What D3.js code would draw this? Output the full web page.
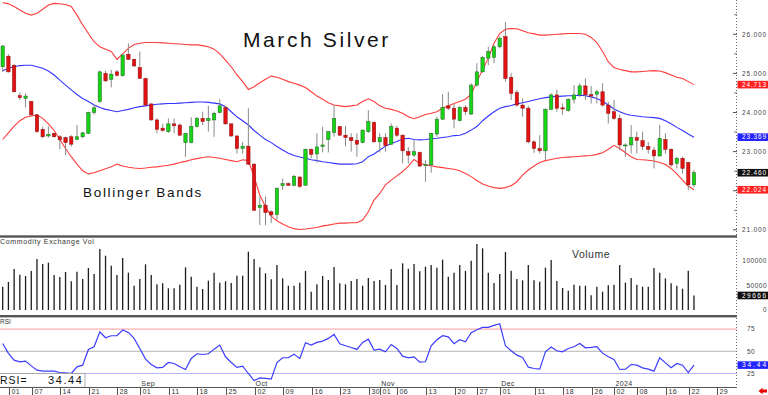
<!DOCTYPE html>
<html><head><meta charset="utf-8">
<script src="https://cdn.jsdelivr.net/npm/d3@7"></script>
<style>html,body{margin:0;padding:0;background:#fff;overflow:hidden}text{font-family:"Liberation Sans",Arial,sans-serif}</style>
</head><body>
<svg id="c" width="768" height="395"></svg>
<script>
// ---- trading days (Jul 31 2023 .. Jan 23 2024) ----
const daysJul = [31];
const daysAug = [1,2,3,4,7,8,9,10,11,14,15,16,17,18,21,22,23,24,25,28,29,30,31];
const daysSep = [1,5,6,7,8,11,12,13,14,15,18,19,20,21,22,25,26,27,28,29];
const daysOct = [2,3,4,5,6,9,10,11,12,13,16,17,18,19,20,23,24,25,26,27,30,31];
const daysNov = [1,2,3,6,7,8,9,10,13,14,15,16,17,20,21,22,24,27,28,29,30];
const daysDec = [1,4,5,6,7,8,11,12,13,14,15,18,19,20,21,22,26,27,28,29];
const daysJan = [2,3,4,5,8,9,10,11,12,16,17,18,19,22,23];

const open = [25.17,25.44,25.21,24.43,24.36,24.28,23.94,23.57,23.40,23.47,23.38,23.36,23.38,23.31,23.38,23.47,24.00,24.28,25.00,24.85,25.04,24.94,25.49,25.36,25.15,24.87,24.22,23.81,23.60,23.51,23.71,23.68,23.23,23.23,23.64,23.85,23.79,23.81,24.00,24.13,23.71,23.40,23.08,23.14,22.68,21.57,21.63,21.46,21.39,22.13,22.18,22.14,22.35,22.14,23.06,22.94,23.13,23.31,23.49,23.64,23.42,23.36,23.29,23.23,23.51,23.75,23.25,23.36,23.19,23.60,23.42,23.00,22.91,22.98,22.64,22.66,23.45,23.83,24.17,24.11,23.79,24.13,23.96,24.70,25.04,25.39,25.41,25.68,25.94,24.90,24.51,24.19,24.11,23.25,23.08,23.02,24.08,24.45,24.12,24.05,24.34,24.45,24.68,24.46,24.47,24.53,24.19,24.02,23.85,23.16,23.17,23.36,23.28,23.13,23.04,22.89,23.31,23.06,22.70,22.83,22.72,22.15];
const high = [25.73,25.49,25.23,24.51,24.49,24.30,23.96,23.64,23.64,23.48,23.42,23.38,23.42,23.68,23.51,24.02,24.19,25.07,25.07,25.09,25.09,25.51,25.77,25.38,25.56,24.89,24.23,23.85,23.71,23.85,23.85,23.72,23.48,23.88,23.89,24.02,24.17,24.02,24.34,24.17,23.72,23.42,23.25,24.11,22.70,21.85,21.85,21.50,22.09,22.31,22.21,22.41,22.37,23.08,23.08,23.47,23.64,23.53,24.19,23.66,23.66,23.47,23.47,23.57,24.06,23.77,23.47,23.47,23.72,23.66,23.44,23.12,23.29,23.00,22.78,23.48,23.89,24.47,24.53,24.23,24.17,24.19,24.75,25.26,25.44,25.68,25.73,25.94,26.32,25.00,24.58,24.36,24.17,23.29,23.42,24.11,24.49,24.58,24.23,24.36,24.70,24.75,24.87,24.68,24.58,24.75,24.28,24.32,23.94,23.21,23.68,23.51,23.51,23.25,23.12,23.68,23.47,23.08,22.87,22.87,22.74,22.53];
const low = [25.04,25.02,24.51,24.32,24.13,23.91,23.48,23.34,23.36,23.36,23.06,22.91,23.13,23.30,23.34,23.45,23.94,24.25,24.78,24.64,24.92,24.92,25.34,25.17,24.87,24.17,23.79,23.47,23.51,23.48,23.47,23.40,22.87,23.21,23.62,23.68,23.51,23.38,23.98,23.68,23.38,22.95,22.95,22.66,21.49,21.12,21.12,21.17,21.25,22.02,22.13,22.11,22.08,22.13,22.83,22.72,22.98,22.98,23.38,23.40,23.13,23.00,22.87,23.21,23.48,23.23,22.98,23.00,23.17,23.38,22.70,22.70,22.87,22.61,22.23,22.46,23.38,23.81,24.06,23.60,23.77,23.94,23.94,24.66,25.02,25.21,25.26,25.64,24.79,24.32,24.15,23.89,23.21,22.97,22.95,22.79,24.06,24.02,23.94,24.02,24.23,24.40,24.32,24.23,24.23,24.15,23.72,23.81,23.04,22.87,22.95,22.95,23.04,22.95,22.57,22.87,22.95,22.61,22.57,22.44,22.02,22.10];
const close = [25.70,25.04,24.53,24.38,24.42,23.94,23.51,23.38,23.44,23.38,23.30,23.23,23.19,23.38,23.48,24.00,24.12,25.04,24.81,24.98,24.95,25.47,25.36,25.19,24.87,24.19,23.81,23.57,23.54,23.71,23.66,23.42,23.47,23.64,23.85,23.77,23.85,23.98,24.17,23.71,23.40,23.08,23.14,22.68,21.50,21.63,21.44,21.38,22.06,22.18,22.14,22.37,22.11,23.06,22.93,23.12,23.17,23.51,23.85,23.42,23.36,23.28,23.19,23.55,23.77,23.25,23.36,23.15,23.64,23.42,23.02,22.91,23.00,22.63,22.67,23.47,23.83,24.13,24.11,23.83,24.13,24.02,24.70,25.04,25.41,25.56,25.68,25.90,24.87,24.49,24.19,24.11,23.25,23.08,23.02,24.08,24.45,24.11,24.09,24.34,24.45,24.68,24.45,24.42,24.53,24.19,23.98,23.85,23.17,23.17,23.36,23.29,23.13,23.06,22.89,23.34,23.06,22.66,22.83,22.57,22.15,22.46];

const upperBand = [26.81,26.78,26.71,26.62,26.54,26.49,26.54,26.64,26.75,26.79,26.78,26.76,26.71,26.49,26.24,26.02,25.81,25.68,25.62,25.56,25.36,25.50,25.64,25.74,25.77,25.79,25.79,25.79,25.78,25.77,25.76,25.75,25.74,25.73,25.73,25.71,25.68,25.62,25.50,25.34,25.17,24.96,24.79,24.59,24.66,24.76,24.85,24.93,24.90,24.85,24.79,24.75,24.70,24.64,24.53,24.42,24.34,24.25,24.19,24.17,24.15,24.17,24.19,24.28,24.35,24.28,24.17,24.11,24.08,24.04,23.98,23.89,23.84,23.89,23.95,23.98,24.02,24.11,24.17,24.23,24.28,24.34,24.47,24.79,25.09,25.39,25.77,26.02,26.13,26.15,26.14,26.09,26.04,26.01,25.98,25.98,25.99,26.00,26.01,26.02,26.02,26.02,26.00,25.92,25.79,25.56,25.30,25.15,25.10,25.07,25.04,25.04,25.05,25.06,25.07,25.06,25.02,24.96,24.90,24.87,24.79,24.713];
const middleBand = [25.07,25.13,25.17,25.20,25.21,25.21,25.17,25.13,25.06,24.96,24.83,24.70,24.58,24.46,24.36,24.28,24.19,24.13,24.08,24.05,24.02,24.05,24.08,24.12,24.15,24.17,24.19,24.21,24.22,24.23,24.23,24.24,24.25,24.26,24.27,24.27,24.26,24.24,24.22,24.15,24.02,23.89,23.79,23.68,23.54,23.42,23.31,23.23,23.13,23.04,22.96,22.90,22.86,22.83,22.79,22.77,22.74,22.72,22.70,22.68,22.68,22.68,22.69,22.74,22.87,22.94,23.04,23.14,23.21,23.26,23.32,23.34,23.31,23.30,23.31,23.33,23.34,23.36,23.38,23.41,23.42,23.47,23.55,23.64,23.79,23.91,24.02,24.11,24.15,24.18,24.22,24.25,24.28,24.32,24.35,24.38,24.40,24.41,24.42,24.43,24.43,24.44,24.43,24.40,24.36,24.29,24.19,24.09,24.02,23.96,23.93,23.91,23.89,23.88,23.87,23.85,23.79,23.71,23.62,23.54,23.45,23.369];
const lowerBand = [23.31,23.48,23.65,23.79,23.88,23.91,23.94,23.85,23.71,23.54,23.31,23.08,22.87,22.68,22.51,22.43,22.46,22.51,22.56,22.61,22.68,22.63,22.60,22.58,22.57,22.58,22.60,22.61,22.63,22.65,22.68,22.72,22.75,22.79,22.82,22.85,22.87,22.85,22.83,22.80,22.77,22.74,22.79,22.77,22.36,21.89,21.59,21.35,21.23,21.15,21.08,21.03,21.01,21.02,21.04,21.06,21.10,21.12,21.15,21.17,21.17,21.18,21.18,21.25,21.46,21.76,21.93,22.15,22.27,22.38,22.49,22.63,22.80,22.70,22.66,22.64,22.61,22.59,22.57,22.55,22.51,22.44,22.36,22.26,22.17,22.12,22.08,22.06,22.08,22.13,22.23,22.40,22.53,22.63,22.72,22.77,22.80,22.83,22.85,22.86,22.87,22.88,22.89,22.90,22.93,22.97,23.06,23.16,23.08,22.97,22.87,22.80,22.79,22.78,22.76,22.72,22.67,22.57,22.43,22.27,22.12,22.024];

const volume = [47600,57100,83600,72100,69400,79600,104000,93800,96600,71400,67300,77500,58500,78200,63200,85700,73400,124400,110800,90400,71400,106100,76200,49600,63200,93200,71400,52400,54400,44200,44200,51700,87000,68000,47600,42800,59800,76200,55800,58500,55100,70000,70000,119000,104000,87000,74800,62600,91800,64600,49600,49600,55800,79600,37400,52400,69400,61200,87700,54400,52400,59200,63200,49600,65300,59200,61200,51000,83600,51000,95200,84300,93800,78900,88400,91800,86400,102700,68000,76200,91800,79600,100600,134600,125800,76200,55100,73400,118300,80200,63200,60500,91800,60500,57800,86400,102000,59200,44900,39400,51700,49600,49600,29900,47600,37400,50300,51700,91800,55800,65300,51700,47600,47600,85700,76200,64600,54400,49600,43500,80200,29666];

const rsi = [58.8,47.6,40.0,38.2,38.9,33.6,28.8,27.6,27.6,27.6,26.1,25.8,25.0,32.5,34.4,52.1,55.1,72.0,65.2,67.5,67.5,73.9,71.2,64.5,53.2,41.2,35.1,31.4,31.8,37.4,36.3,32.5,29.5,41.9,47.2,46.4,47.2,52.4,57.0,43.8,37.4,31.8,33.3,25.0,17.1,20.1,19.4,18.6,37.4,42.7,42.7,46.8,41.9,59.6,57.0,60.0,61.5,64.5,69.0,58.5,56.2,54.3,52.1,60.0,63.7,51.3,52.4,49.4,57.7,53.2,44.5,42.7,43.8,37.8,38.2,56.2,63.0,67.5,66.3,58.5,63.0,60.7,70.9,74.2,76.9,76.9,79.1,81.0,56.2,50.6,45.7,43.0,32.1,30.6,29.9,49.4,54.7,50.6,49.4,53.2,55.1,58.8,53.9,54.3,55.1,47.9,43.8,40.8,29.5,29.9,35.1,34.4,31.4,29.9,27.6,42.7,37.0,31.4,36.3,34.4,26.1,34.44];

// axis labels (tick positions are trading-day slots)
const tickSlots  = [1,5,10,15,20,24,29,34,39,44,49,54,59,64,66,69,74,79,83,87,93,98,103,107,111,116,120,125];
const tickLabels = ["01","07","14","21","28","01","11","18","25","02","09","16","23","30","01","06","13","20","27","01","11","18","26","02","08","16","22","29"];
const monthSlots  = [24,44,66,87,107];
const monthLabels = ["Sep","Oct","Nov","Dec","2024"];
const priceTicks = [21,22,23,24,25,26];
const priceMinorTicks = [21.5,22.5,23.5,24.5,25.5,26.5];
const volTicks = [0,50000,100000];
const rsiTicks = [25,50,75];

// ---------------------------------------------------
const dates = [].concat(
  daysJul.map(d=>"2023-07-"+d), daysAug.map(d=>"2023-08-"+d), daysSep.map(d=>"2023-09-"+d),
  daysOct.map(d=>"2023-10-"+d), daysNov.map(d=>"2023-11-"+d), daysDec.map(d=>"2023-12-"+d),
  daysJan.map(d=>"2024-01-"+d));
const idx = d3.range(close.length);
const svg = d3.select("#c");
const PR = 737;
const x = d3.scaleLinear().domain([-0.4726, 128.53]).range([0, PR]);
const yP = d3.scaleLinear().domain([20.842, 26.877]).range([236, 0]);
const yV = d3.scaleLinear().domain([0, 148980]).range([310, 237]);
const yR = d3.scaleLinear().domain([9.46, 88.6]).range([387.3, 317]);

svg.append("rect").attr("width",768).attr("height",395).attr("fill","#fff");

svg.append("clipPath").attr("id","cm").append("rect").attr("x",0).attr("y",0).attr("width",PR).attr("height",235);

// titles
svg.append("text").attr("x",243).attr("y",46.5).attr("font-size",21).attr("letter-spacing",2.6).attr("fill","#111").text("March Silver");
svg.append("text").attr("x",83).attr("y",197).attr("font-size",13.5).attr("letter-spacing",1.7).attr("fill","#111").text("Bollinger Bands");

const main = svg.append("g").attr("clip-path","url(#cm)");
const line = arr => d3.line().x((d,i)=>x(i)).y(d=>yP(d))(arr);
main.append("path").attr("d",line(upperBand)).attr("fill","none").attr("stroke","#ff3c3c").attr("stroke-width",1.1);
main.append("path").attr("d",line(lowerBand)).attr("fill","none").attr("stroke","#ff3c3c").attr("stroke-width",1.1);
main.append("path").attr("d",line(middleBand)).attr("fill","none").attr("stroke","#3434ff").attr("stroke-width",1.1);

// candles
main.selectAll("line.wick").data(idx).join("line").attr("class","wick")
  .attr("x1",i=>x(i)).attr("x2",i=>x(i)).attr("y1",i=>yP(high[i])).attr("y2",i=>yP(low[i]))
  .attr("stroke","#8a8a8a").attr("stroke-width",1);
main.selectAll("rect.body").data(idx).join("rect").attr("class","body")
  .attr("x",i=>x(i)-1.7).attr("width",3.4)
  .attr("y",i=>yP(Math.max(open[i],close[i])))
  .attr("height",i=>Math.max(1,yP(Math.min(open[i],close[i]))-yP(Math.max(open[i],close[i]))))
  .attr("fill",i=>close[i]>=open[i]?"#14d414":"#e01212")
  .attr("stroke",i=>close[i]>=open[i]?"#2d5f2d":"#8c1111").attr("stroke-width",0.5);

// separators
svg.append("rect").attr("x",0).attr("y",235.3).attr("width",PR).attr("height",2.4).attr("fill","#555");
svg.append("rect").attr("x",0).attr("y",315).attr("width",PR).attr("height",2.4).attr("fill","#555");

// volume
svg.append("text").attr("x",0).attr("y",243.5).attr("font-size",7).attr("letter-spacing",0.65).attr("fill","#333").text("Commodity Exchange Vol");
svg.append("text").attr("x",572).attr("y",257.5).attr("font-size",10.5).attr("letter-spacing",0.5).attr("fill","#333").text("Volume");
svg.selectAll("line.vol").data(idx).join("line").attr("class","vol")
  .attr("x1",i=>x(i)).attr("x2",i=>x(i)).attr("y1",yV(0)).attr("y2",i=>yV(volume[i]))
  .attr("stroke","#1c1c1c").attr("stroke-width",1.3);

// RSI
svg.append("text").attr("x",0).attr("y",324).attr("font-size",6.5).attr("fill","#333").text("RSI");
const rsiLineCol = {75:"#ff9c9c",50:"#b4b4b4",25:"#b4b4ff"};
rsiTicks.forEach(t=>{
  svg.append("line").attr("x1",0).attr("x2",PR).attr("y1",yR(t)).attr("y2",yR(t)).attr("stroke",rsiLineCol[t]).attr("stroke-width",1);
});
svg.append("path").attr("d",d3.line().x((d,i)=>x(i)).y(d=>yR(d))(rsi)).attr("fill","none").attr("stroke","#3c3cff").attr("stroke-width",1.2);

// RSI value box
svg.append("rect").attr("x",-1).attr("y",373.5).attr("width",86).attr("height",13.8).attr("fill","#fff").attr("stroke","#9a9a9a").attr("stroke-width",0.8);
svg.append("text").attr("x",0).attr("y",384).attr("font-size",10.5).attr("letter-spacing",1).attr("fill","#111").text("RSI=");
svg.append("text").attr("x",48).attr("y",384).attr("font-size",11).attr("letter-spacing",1.6).attr("fill","#111").text(d3.format(".2f")(rsi[rsi.length-1]));

// bottom axis
svg.append("line").attr("x1",0).attr("x2",PR).attr("y1",387.5).attr("y2",387.5).attr("stroke","#555").attr("stroke-width",1);
tickSlots.forEach((s,k)=>{
  const xx = Math.round(x(s)+0.5)+0.5;
  svg.append("line").attr("x1",xx).attr("x2",xx).attr("y1",387.5).attr("y2",395).attr("stroke","#555").attr("stroke-width",1);
  svg.append("text").attr("x",xx+2).attr("y",394).attr("font-size",7).attr("letter-spacing",0.4).attr("fill","#333").text(tickLabels[k]);
});
monthSlots.forEach((s,k)=>{
  svg.append("text").attr("x",x(s)+1.5).attr("y",385.5).attr("font-size",7).attr("letter-spacing",0.4).attr("fill","#333").text(monthLabels[k]);
});

// right axis
svg.append("line").attr("x1",PR-0.5).attr("x2",PR-0.5).attr("y1",0).attr("y2",388).attr("stroke","#666").attr("stroke-width",1).attr("stroke-dasharray","1,2");
priceTicks.forEach(t=>{
  svg.append("line").attr("x1",PR-4).attr("x2",PR).attr("y1",yP(t)).attr("y2",yP(t)).attr("stroke","#555");
  svg.append("text").attr("x",742).attr("y",yP(t)+2.3).attr("font-size",6.5).attr("textLength",24).attr("lengthAdjust","spacing").attr("fill","#444").text(d3.format(".3f")(t));
});
priceMinorTicks.forEach(t=>{
  svg.append("line").attr("x1",PR-3).attr("x2",PR).attr("y1",yP(t)).attr("y2",yP(t)).attr("stroke","#777");
});
volTicks.forEach(t=>{
  svg.append("text").attr("x",767).attr("y",yV(t)+2.3).attr("text-anchor","end").attr("font-size",6.5).attr("letter-spacing",0.5).attr("fill","#444").text(t);
});
rsiTicks.forEach(t=>{
  svg.append("text").attr("x",747).attr("y",yR(t)+2.3).attr("font-size",6.5).attr("letter-spacing",0.5).attr("fill","#444").text(t);
});

function tag(yy, txt, col){
  svg.append("rect").attr("x",737.5).attr("y",yy-3.8).attr("width",30.5).attr("height",7.6).attr("fill",col);
  svg.append("text").attr("x",742).attr("y",yy+2.3).attr("font-size",6.5).attr("textLength",24).attr("lengthAdjust","spacing").attr("fill","#fff").text(txt);
}
const L = close.length-1;
tag(yP(upperBand[L]), d3.format(".3f")(upperBand[L]), "#ff2020");
tag(yP(middleBand[L]), d3.format(".3f")(middleBand[L]), "#2424ff");
tag(yP(close[L]), d3.format(".3f")(close[L]), "#111");
tag(yP(lowerBand[L]), d3.format(".3f")(lowerBand[L]), "#ff2020");
tag(yV(volume[L]), String(volume[L]), "#111");
tag(yR(rsi[L]), d3.format(".2f")(rsi[L]), "#2424ff");

// red arrow
svg.append("path").attr("d","M758.5,391 L762.5,387.8 L762.5,389.6 L767,389.6 L767,392.4 L762.5,392.4 L762.5,394.2 Z").attr("fill","#e00");
</script>
</body></html>
